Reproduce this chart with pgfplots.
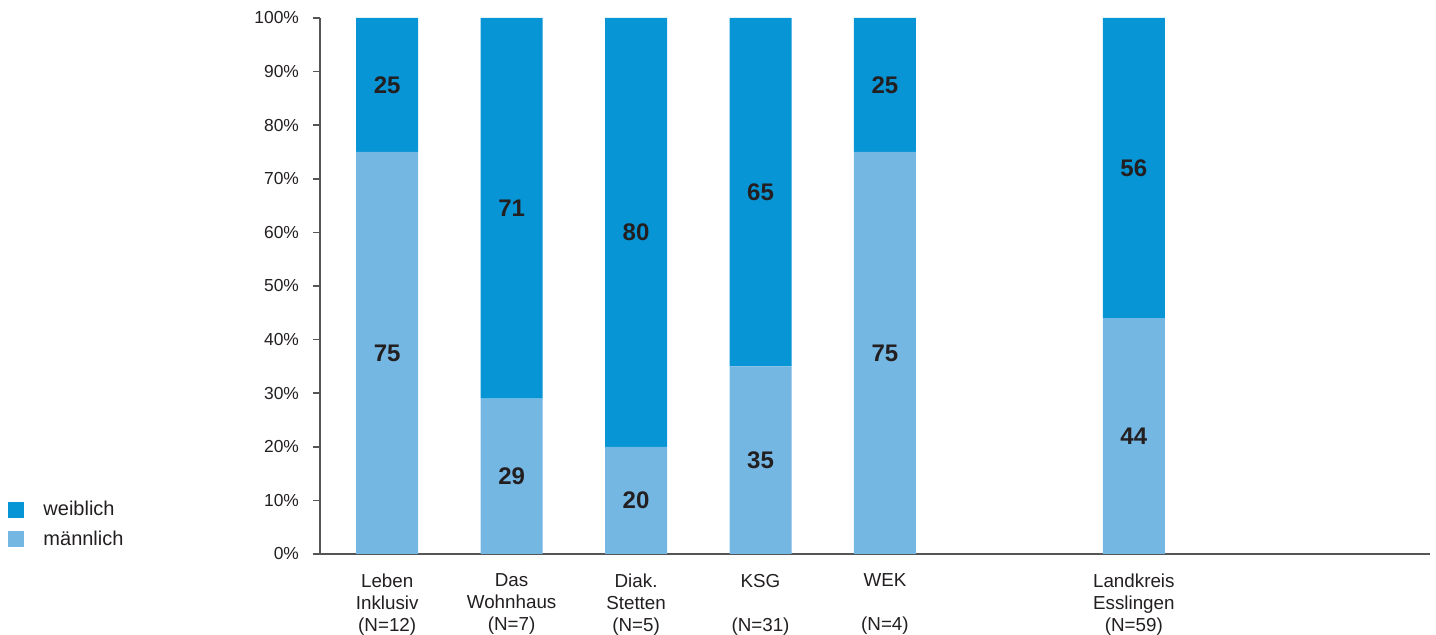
\documentclass[border=0pt]{standalone}
\usepackage{fontspec}
\setmainfont{Liberation Sans}
\usepackage{pgfplots}
\pgfplotsset{compat=1.18}
\definecolor{weibl}{HTML}{0795D6}
\definecolor{maennl}{HTML}{75B7E3}
\definecolor{txt}{HTML}{231F20}
\definecolor{axgray}{HTML}{555555}
\begin{document}
\begin{tikzpicture}
\useasboundingbox (-160pt,-40.5pt) rectangle (558pt,277pt);
\begin{axis}[
  at={(0,0)}, anchor=south west,
  scale only axis, width=555pt, height=268pt,
  ybar stacked, bar width=31pt,
  xmin=-0.54, xmax=8.38, ymin=0, ymax=100,
  axis x line*=bottom, axis y line*=left,
  axis line style={axgray, line width=0.8pt},
  x axis line style={shorten <=-3pt},
  tick align=outside, major tick length=3.5pt,
  ytick={0,10,...,100},
  ytick style={axgray, line width=0.8pt},
  xtick style={draw=none},
  /pgf/number format/assume math mode=true,
  yticklabel={\pgfmathprintnumber{\tick}\%},
  yticklabel style={font=\fontsize{8.7}{10}\selectfont, text=txt, xshift=-3.5pt},
  xtick={0,1,2,3,4,6},
  xticklabels={{Leben\\Inklusiv\\(N=12)},{Das\\Wohnhaus\\(N=7)},{Diak.\\Stetten\\(N=5)},{KSG\\\strut\\(N=31)},{WEK\\\strut\\(N=4)},{Landkreis\\Esslingen\\(N=59)}},
  xticklabel style={align=center, font=\fontsize{9.4}{11}\selectfont, text=txt, yshift=-3pt},
  nodes near coords,
  point meta=rawy,
  every node near coord/.append style={font=\bfseries\fontsize{12}{12}\selectfont, text=txt, anchor=center},
  legend style={at={(-0.281,0.107)}, anchor=north west, draw=none, fill=none, inner sep=0pt, font=\fontsize{10}{12}\selectfont, text=txt, row sep=2pt, column sep=7.5pt},
  legend cell align=left,
  reverse legend,
  legend image code/.code={\fill[#1] (0pt,-4pt) rectangle (8pt,4pt);},
]
\addplot[fill=maennl, draw=none] coordinates {(0,75) (1,29) (2,20) (3,35) (4,75) (6,44)};
\addlegendentry{männlich}
\addplot[fill=weibl, draw=none] coordinates {(0,25) (1,71) (2,80) (3,65) (4,25) (6,56)};
\addlegendentry{weiblich}
\end{axis}
\end{tikzpicture}
\end{document}
